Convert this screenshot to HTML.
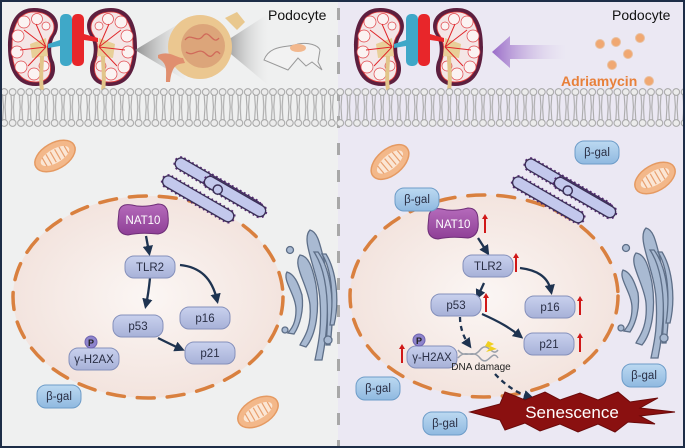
<!DOCTYPE html>
<html><head><meta charset="utf-8"><style>
html,body{margin:0;padding:0;background:#fff}
svg{display:block}
text{font-family:"Liberation Sans",sans-serif}
</style></head><body>
<svg width="685" height="448" viewBox="0 0 685 448" xmlns="http://www.w3.org/2000/svg">
<defs>
<radialGradient id="nuc" cx="50%" cy="50%" r="55%">
<stop offset="0" stop-color="#fbf6f4"/><stop offset="1" stop-color="#f2e2dc"/>
</radialGradient>
<linearGradient id="prot" x1="0" y1="0" x2="0" y2="1">
<stop offset="0" stop-color="#c9d1ee"/><stop offset="1" stop-color="#a7b1d8"/>
</linearGradient>
<linearGradient id="nat" x1="0" y1="0" x2="0" y2="1">
<stop offset="0" stop-color="#b56bbb"/><stop offset="1" stop-color="#8e3f96"/>
</linearGradient>
<linearGradient id="bgal" x1="0" y1="0" x2="0" y2="1">
<stop offset="0" stop-color="#bcd9f1"/><stop offset="1" stop-color="#8fb9e0"/>
</linearGradient>
<linearGradient id="parr" x1="0" y1="0" x2="1" y2="0">
<stop offset="0" stop-color="#9a6cc8"/><stop offset="1" stop-color="#e9e4f3" stop-opacity="0.2"/>
</linearGradient>
<linearGradient id="cone1" x1="0" y1="0" x2="1" y2="0">
<stop offset="0" stop-color="#777"/><stop offset="1" stop-color="#e8e8e8" stop-opacity="0.3"/>
</linearGradient>
<linearGradient id="cone2" x1="0" y1="0" x2="1" y2="0">
<stop offset="0" stop-color="#666"/><stop offset="1" stop-color="#eee" stop-opacity="0.2"/>
</linearGradient>
<pattern id="mem" x="0" y="87" width="8.4" height="41" patternUnits="userSpaceOnUse">
<path d="M2.6 8 L3.4 20 L2.6 33 M5.8 8 L5 20 L5.8 33" stroke="#a9a9a9" stroke-width="1.1" fill="none"/>
<circle cx="4.2" cy="5" r="3.4" fill="#ececec" stroke="#a5a5a5" stroke-width="1"/>
<circle cx="4.2" cy="36" r="3.4" fill="#ececec" stroke="#a5a5a5" stroke-width="1"/>
</pattern>
<marker id="ah" viewBox="0 0 10 10" refX="6" refY="5" markerWidth="4.5" markerHeight="4.5" orient="auto">
<path d="M0 0 L10 5 L0 10 z" fill="#1e3350"/>
</marker>
<g id="kid">
<path d="M32 8 C10 8 6 30 6 47 C6 70 14 86 34 86 C48 86 56 76 52 62 C48 54 48 42 54 34 C60 22 52 8 32 8 Z" fill="#5d1f3f"/>
<path d="M32 12 C14 12 10 32 10 47 C10 68 17 82 34 82 C46 82 50 74 48 63 C44 54 44 42 50 34 C56 24 48 12 32 12 Z" fill="#f4e6e6" stroke="#e03a3a" stroke-width="0.8"/>
<g fill="#fbf3f2" stroke="#e0454a" stroke-width="0.7">
<circle cx="22" cy="22" r="6"/><circle cx="35" cy="19" r="5.5"/><circle cx="16" cy="36" r="6"/><circle cx="15" cy="52" r="6"/><circle cx="19" cy="67" r="6"/><circle cx="32" cy="74" r="6"/><circle cx="42" cy="66" r="5"/><circle cx="44" cy="26" r="4"/>
</g>
<path d="M28 44 L44 38 L46 56 L30 58 Z" fill="#e8cf98"/>
<path d="M44 47 L22 30 M44 47 L18 50 M44 47 L26 66 M44 47 L34 24" stroke="#e0262a" stroke-width="1" fill="none"/>
<path d="M40 56 C40 66 38 78 40 90" stroke="#e2c58a" stroke-width="4" fill="none"/>
</g>
<g id="mito">
<ellipse cx="0" cy="0" rx="22" ry="13" fill="#f3b88a" stroke="#e59a62" stroke-width="1.5"/>
<ellipse cx="0" cy="0" rx="16" ry="7" fill="#fbe6d4"/>
<path d="M-12 -5 v10 M-7 -6 v12 M-2 -6 v12 M3 -6 v12 M8 -6 v12 M13 -4 v8" stroke="#e8a070" stroke-width="1.2"/>
</g>
<g id="er" fill="#c3c8ec" stroke="#3a2f55" stroke-width="1.2">
<rect x="-35" y="-5" width="70" height="10" rx="5" transform="translate(-12,12) rotate(30)" stroke-dasharray="1.5 2.5" stroke-width="3" stroke="#5b2a78"/>
<rect x="-35" y="-5" width="70" height="10" rx="5" transform="translate(-12,12) rotate(30)"/>
<rect x="-42" y="-5" width="84" height="10" rx="5" transform="translate(5,0) rotate(30)" stroke-dasharray="1.5 2.5" stroke-width="3" stroke="#5b2a78"/>
<rect x="-42" y="-5" width="84" height="10" rx="5" transform="translate(5,0) rotate(30)"/>
<rect x="-30" y="-5" width="60" height="10" rx="5" transform="translate(20,10) rotate(30)" stroke-dasharray="1.5 2.5" stroke-width="3" stroke="#5b2a78"/>
<rect x="-30" y="-5" width="60" height="10" rx="5" transform="translate(20,10) rotate(30)"/>
<circle cx="5" cy="4" r="4"/>
</g>
</defs>

<!-- backgrounds -->
<rect x="0" y="0" width="685" height="448" fill="#1d2d47"/>
<rect x="2" y="2" width="336" height="444" fill="#eff0f0"/>
<rect x="338" y="2" width="345" height="444" fill="#ebe8f3"/>
<line x1="338.5" y1="8" x2="338.5" y2="446" stroke="#a8a8a8" stroke-width="3" stroke-dasharray="12 15"/>

<!-- top left -->
<use href="#kid" x="2" y="0"/>
<use href="#kid" transform="translate(143,0) scale(-1,1)"/>
<rect x="60" y="14" width="12" height="52" rx="5" fill="#3fa8c8"/>
<rect x="72" y="14" width="12" height="52" rx="5" fill="#e8262a"/>
<path d="M60 40 L48 44 L48 48 L60 46Z" fill="#3fa8c8"/><path d="M84 34 L98 38 L98 42 L84 40Z" fill="#e8262a"/>
<polygon points="135,50 185,20 185,80" fill="url(#cone1)" opacity="0.8"/>
<polygon points="220,45 268,14 268,85" fill="url(#cone2)" opacity="0.8"/>
<path d="M225 18 l12 -6 l8 10 l-8 8 z" fill="#e9c88e"/>
<circle cx="200" cy="47" r="32" fill="#ebc790"/>
<circle cx="203" cy="46" r="22" fill="#dca57a"/>
<path d="M185 40 c6 -8 12 4 18 -4 s10 10 16 2 M186 52 c8 6 12 -6 20 2 s8 -8 14 0" stroke="#d06a5a" fill="none" stroke-width="1.3"/>
<path d="M158 55 C170 50 176 58 183 58 L185 63 C176 64 172 66 170 82 L166 82 C166 70 168 64 158 58 Z" fill="#e08f6f"/>
<path d="M264 60 C270 44 288 48 298 44 C308 42 318 45 320 50 L318 62 L322 70 L312 62 L306 66 L298 58 L288 70 Z" fill="#f2f2f2" stroke="#999" stroke-width="1"/>
<ellipse cx="298" cy="48" rx="8" ry="4" fill="#f2b88e"/>
<text x="268" y="20" font-size="14" fill="#111">Podocyte</text>

<!-- top right -->
<use href="#kid" x="348" y="0"/>
<use href="#kid" transform="translate(489,0) scale(-1,1)"/>
<rect x="406" y="14" width="12" height="52" rx="5" fill="#3fa8c8"/>
<rect x="418" y="14" width="12" height="52" rx="5" fill="#e8262a"/>
<path d="M406 40 L394 44 L394 48 L406 46Z" fill="#3fa8c8"/><path d="M430 34 L444 38 L444 42 L430 40Z" fill="#e8262a"/>
<path d="M492 52 L510 36 L510 45 L565 45 L565 59 L510 59 L510 68 Z" fill="url(#parr)"/>
<g fill="#f0a872" stroke="#e8c0a0" stroke-width="1">
<circle cx="600" cy="44" r="4.5"/><circle cx="616" cy="42" r="4.5"/><circle cx="640" cy="38" r="4.5"/><circle cx="628" cy="54" r="4.5"/><circle cx="612" cy="65" r="4.5"/><circle cx="649" cy="81" r="4.5"/>
</g>
<text x="561" y="86" font-size="14" font-weight="bold" fill="#e8803a">Adriamycin</text>
<text x="612" y="20" font-size="14" fill="#111">Podocyte</text>

<!-- membrane -->
<rect x="2" y="87" width="681" height="41" fill="url(#mem)"/>

<!-- nuclei -->
<ellipse cx="148" cy="297" rx="135" ry="101" fill="url(#nuc)" stroke="#d9803f" stroke-width="3.5" stroke-dasharray="17 13" stroke-linecap="round"/>
<ellipse cx="484" cy="296" rx="134" ry="101" fill="url(#nuc)" stroke="#d9803f" stroke-width="3.5" stroke-dasharray="17 13" stroke-linecap="round"/>

<!-- mitochondria -->
<use href="#mito" transform="translate(55,156) rotate(-30)"/>
<use href="#mito" transform="translate(258,412) rotate(-30)"/>
<use href="#mito" transform="translate(390,162) rotate(-40)"/>
<use href="#mito" transform="translate(655,178) rotate(-30)"/>

<!-- ER -->
<use href="#er" transform="translate(212,185) scale(1.15)"/>
<use href="#er" transform="translate(562,186) scale(1.15)"/>

<!-- golgi -->
<g id="golgi" fill="#a9bad2" stroke="#5e6f88" stroke-width="1.3">
<path d="M310 230 C300 240 318 270 320 300 C322 330 318 345 315 360 L322 360 C328 330 330 290 324 260 C320 245 318 232 310 230Z"/>
<path d="M300 255 C292 265 308 285 310 305 C312 330 302 340 300 345 L306 347 C316 335 320 310 316 285 C312 265 308 256 300 255Z"/>
<path d="M287 272 C282 280 296 295 296 310 C296 325 290 330 288 333 L294 334 C300 325 304 310 302 295 C298 282 294 274 287 272Z"/>
<path d="M314 252 C326 270 330 300 326 345 L330 345 C336 300 330 268 318 252Z"/>
<path d="M322 254 C332 270 334 300 330 325 L334 325 C340 300 336 270 326 254Z"/>
<circle cx="290" cy="250" r="3.5"/><circle cx="285" cy="330" r="3"/><circle cx="328" cy="340" r="4"/>
</g>
<use href="#golgi" transform="translate(336,-2)"/>

<!-- connectors left -->
<g stroke="#1e3350" stroke-width="2.3" fill="none" marker-end="url(#ah)">
<path d="M146 236 L149 252"/>
<path d="M150 278 C149 288 148 296 146 305"/>
<path d="M180 265 C200 267 212 278 217 300"/>
<path d="M158 338 C166 342 172 345 181 349"/>
</g>
<!-- connectors right -->
<g stroke="#1e3350" stroke-width="2.3" fill="none" marker-end="url(#ah)">
<path d="M478 238 L487 252"/>
<path d="M520 268 C536 270 548 276 551 291"/>
<path d="M484 283 L478 296"/>
<path d="M482 314 C500 322 510 328 520 336"/>
</g>
<g stroke="#1e3350" stroke-width="2.3" fill="none" stroke-dasharray="5 4" marker-end="url(#ah)">
<path d="M460 317 C460 328 464 338 469 345"/>
<path d="M495 374 C508 388 520 394 530 397"/>
</g>

<!-- nodes -->
<g font-size="11.5" text-anchor="middle" fill="#2a2f45">
<path d="M119 211 Q121 203 132 205 Q143 208 158 204 Q168 204 168 216 Q170 232 158 234 Q140 232 128 235 Q117 234 118 222 Z" fill="url(#nat)" stroke="#6f2f78"/>
<text x="143" y="224" fill="#fff">NAT10</text>
<g fill="url(#prot)" stroke="#8590bb">
<rect x="125" y="256" width="50" height="22" rx="9"/>
<rect x="113" y="315" width="50" height="22" rx="9"/>
<rect x="180" y="307" width="50" height="22" rx="9"/>
<rect x="185" y="342" width="50" height="22" rx="9"/>
<rect x="69" y="348" width="50" height="22" rx="9"/>
</g>
<text x="150" y="271">TLR2</text><text x="138" y="330">p53</text><text x="205" y="322">p16</text><text x="210" y="357">p21</text><text x="94" y="363">γ-H2AX</text>
<circle cx="91" cy="342" r="6" fill="#8e84cc" stroke="#6f64b0"/><text x="91" y="346" font-size="9" font-weight="bold" fill="#222">P</text>
<rect x="37" y="385" width="44" height="23" rx="9" fill="url(#bgal)" stroke="#6d9cc8"/><text x="59" y="400">β-gal</text>

<path d="M429 215 Q431 207 442 209 Q453 212 468 208 Q478 208 478 220 Q480 236 468 238 Q450 236 438 239 Q427 238 428 226 Z" fill="url(#nat)" stroke="#6f2f78"/>
<text x="453" y="228" fill="#fff">NAT10</text>
<g fill="url(#prot)" stroke="#8590bb">
<rect x="463" y="255" width="50" height="22" rx="9"/>
<rect x="431" y="294" width="50" height="22" rx="9"/>
<rect x="525" y="296" width="50" height="22" rx="9"/>
<rect x="524" y="333" width="50" height="22" rx="9"/>
<rect x="407" y="346" width="50" height="22" rx="9"/>
</g>
<text x="488" y="270">TLR2</text><text x="456" y="309">p53</text><text x="550" y="311">p16</text><text x="549" y="348">p21</text><text x="432" y="361">γ-H2AX</text>
<circle cx="419" cy="340" r="6" fill="#8e84cc" stroke="#6f64b0"/><text x="419" y="344" font-size="9" font-weight="bold" fill="#222">P</text>
<g fill="url(#bgal)" stroke="#6d9cc8">
<rect x="395" y="188" width="44" height="23" rx="9"/>
<rect x="575" y="141" width="44" height="23" rx="9"/>
<rect x="356" y="377" width="44" height="23" rx="9"/>
<rect x="622" y="364" width="44" height="23" rx="9"/>
<rect x="423" y="412" width="44" height="23" rx="9"/>
</g>
<text x="417" y="203">β-gal</text><text x="597" y="156">β-gal</text><text x="378" y="392">β-gal</text><text x="644" y="379">β-gal</text><text x="445" y="427">β-gal</text>
</g>

<!-- red up arrows -->
<g stroke="#d01818" stroke-width="2">
<line x1="485" y1="233" x2="485" y2="218"/><line x1="516" y1="272" x2="516" y2="257"/><line x1="486" y1="312" x2="486" y2="297"/>
<line x1="580" y1="315" x2="580" y2="300"/><line x1="580" y1="352" x2="580" y2="337"/><line x1="402" y1="363" x2="402" y2="348"/>
</g>
<g fill="#d01818">
<path d="M482 219 L485 214 L488 219Z"/><path d="M513 258 L516 253 L519 258Z"/><path d="M483 298 L486 293 L489 298Z"/>
<path d="M577 301 L580 296 L583 301Z"/><path d="M577 338 L580 333 L583 338Z"/><path d="M399 349 L402 344 L405 349Z"/>
</g>

<!-- DNA damage -->
<path d="M458 358 C466 348 472 360 480 350 S492 358 498 350 M458 350 C466 360 472 348 480 358 S492 348 498 358" stroke="#9aa0aa" stroke-width="1.5" fill="none"/>
<path d="M488 341 L494 344 L490 346 L497 349 L486 352 L490 348 L485 346Z" fill="#f0d020"/>
<text x="481" y="370" font-size="10" text-anchor="middle" fill="#222">DNA damage</text>

<!-- Senescence -->
<polygon points="470,412 500,404 505,392 525,400 545,392 560,400 580,393 598,400 618,392 630,402 658,398 640,408 675,412 640,416 655,424 628,422 615,432 598,424 578,432 560,424 540,431 525,423 505,430 500,420" fill="#8a1010" stroke="#6a0a0a"/>
<text x="572" y="418" font-size="17" text-anchor="middle" fill="#fff">Senescence</text>
</svg>
</body></html>
